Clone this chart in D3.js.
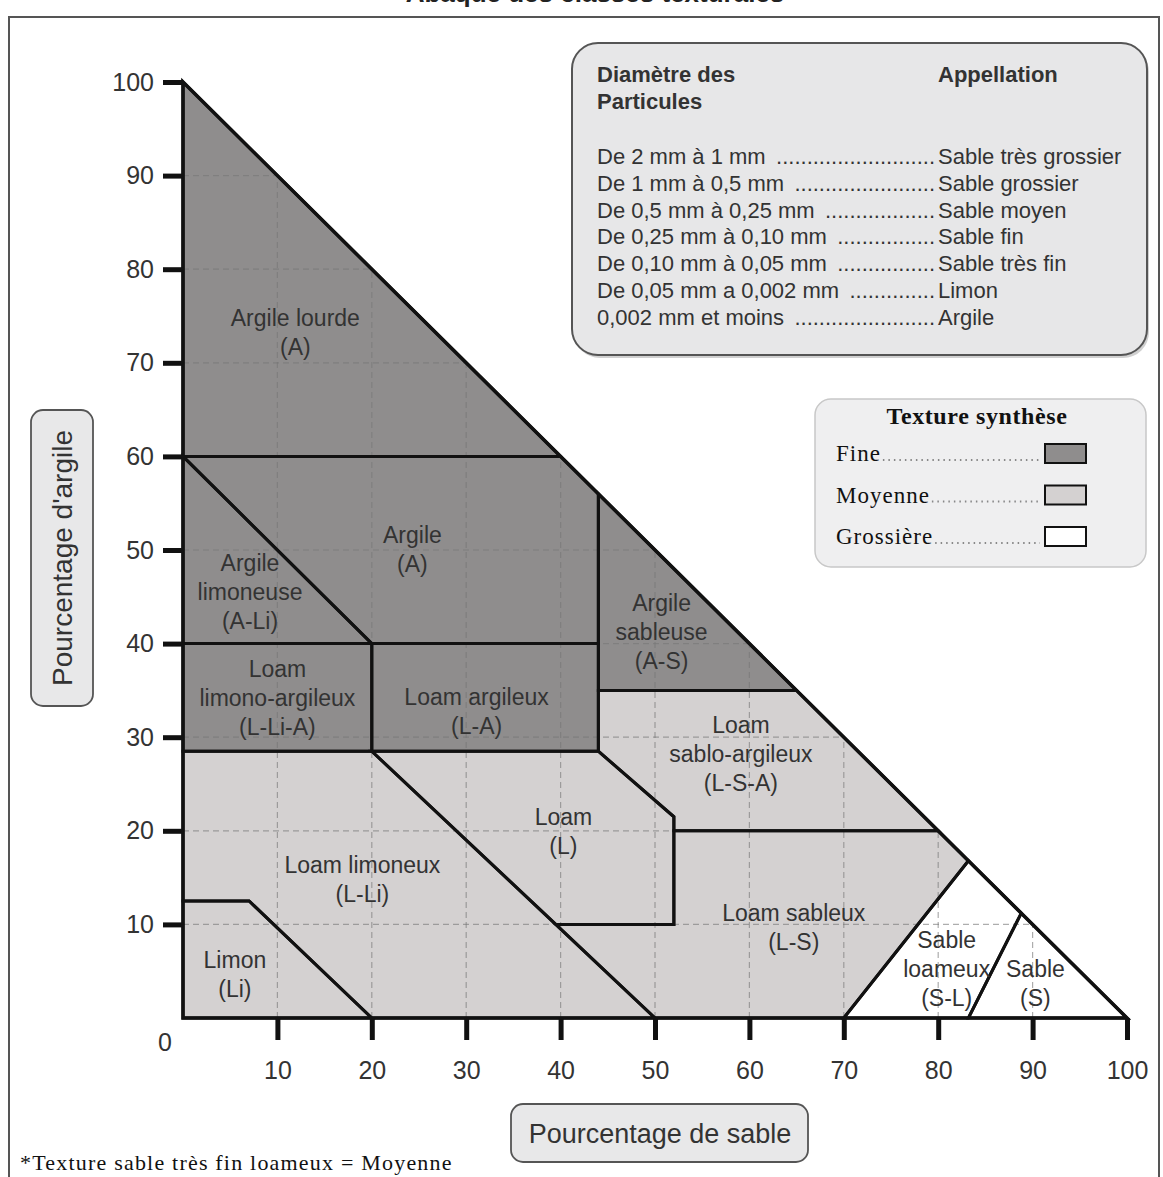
<!DOCTYPE html>
<meta charset="utf-8">
<style>
body { margin: 0; background: #fff; }
svg { display: block; font-family: Arial, "Liberation Sans", sans-serif; }
.region-label { font-size: 23px; fill: #333; text-anchor: middle; }
.axis text { font-size: 25px; fill: #333; font-family: Arial, "Liberation Sans", sans-serif; }
.axis line { stroke: #111; stroke-width: 5px; }
.grid line { stroke: #777; stroke-opacity: 0.6; stroke-width: 1.2px; stroke-dasharray: 6,4; }
.box-text { font-size: 22px; fill: #333; }
.serif { font-family: "Liberation Serif", "DejaVu Serif", serif; fill: #111; }
</style>
<svg width="1163" height="1177"></svg>
<script src="https://d3js.org/d3.v7.min.js"></script>
<script>
var svg = d3.select("svg");

// ticks
var tickValues = [10, 20, 30, 40, 50, 60, 70, 80, 90, 100];
var gridValues = [10, 20, 30, 40, 50, 60, 70, 80, 90];

// texture classes (legend)
var textureNames = ["Fine", "Moyenne", "Grossière"];
var textureColors = ["#8f8d8d", "#d4d1d1", "#ffffff"];

// regions: [sand %, clay %] vertices, texture index
var regionNames = ["A lourde", "A", "A-Li", "L-Li-A", "L-A", "A-S", "L-S-A", "L", "L-Li", "Li", "L-S", "S-L", "S"];
var regionTexture = [0, 0, 0, 0, 0, 0, 1, 1, 1, 1, 1, 2, 2];
var regionPoints = [
  [[0,100],[40,60],[0,60]],
  [[0,60],[40,60],[44,56],[44,40],[20,40]],
  [[0,60],[20,40],[0,40]],
  [[0,40],[20,40],[20,28.5],[0,28.5]],
  [[20,40],[44,40],[44,28.5],[20,28.5]],
  [[44,56],[65,35],[44,35]],
  [[44,35],[65,35],[80,20],[52,20],[52,21.5],[44,28.5]],
  [[20,28.5],[44,28.5],[52,21.5],[52,10],[39.5,10]],
  [[0,28.5],[20,28.5],[50,0],[20,0],[7,12.5],[0,12.5]],
  [[0,12.5],[7,12.5],[20,0],[0,0]],
  [[52,20],[80,20],[83.2,16.8],[70,0],[50,0],[39.5,10],[52,10]],
  [[70,0],[83.2,16.8],[88.8,11.2],[83.2,0]],
  [[83.2,0],[88.8,11.2],[100,0]]
];

// region labels: lines, anchor (sand, clay) of the first line
var labelLines = [
  ["Argile lourde", "(A)"],
  ["Argile", "(A)"],
  ["Argile", "limoneuse", "(A-Li)"],
  ["Loam", "limono-argileux", "(L-Li-A)"],
  ["Loam argileux", "(L-A)"],
  ["Argile", "sableuse", "(A-S)"],
  ["Loam", "sablo-argileux", "(L-S-A)"],
  ["Loam", "(L)"],
  ["Loam limoneux", "(L-Li)"],
  ["Limon", "(Li)"],
  ["Loam sableux", "(L-S)"],
  ["Sable", "loameux", "(S-L)"],
  ["Sable", "(S)"]
];
var labelSand = [11.9, 24.3, 7.1, 10.0, 31.1, 50.7, 59.1, 40.3, 19.0, 5.5, 64.7, 80.9, 90.3];
var labelClay = [74.8, 51.6, 48.6, 37.3, 34.3, 44.3, 31.3, 21.5, 16.3, 6.2, 11.2, 8.3, 5.2];

// particle size table
var particleSizes = ["De 2 mm à 1 mm", "De 1 mm à 0,5 mm", "De 0,5 mm à 0,25 mm", "De 0,25 mm à 0,10 mm",
  "De 0,10 mm à 0,05 mm", "De 0,05 mm a 0,002 mm", "0,002 mm et moins"];
var appellations = ["Sable très grossier", "Sable grossier", "Sable moyen", "Sable fin",
  "Sable très fin", "Limon", "Argile"];

var x = d3.scaleLinear().domain([0, 100]).range([183, 1127]);
var y = d3.scaleLinear().domain([0, 100]).range([1018, 82]);

var line = d3.line().x(function(d) { return x(d[0]); }).y(function(d) { return y(d[1]); });

// cut-off title and outer frame
svg.append("text")
  .attr("x", 595).attr("y", 1.5)
  .attr("text-anchor", "middle")
  .attr("font-weight", "bold").attr("font-size", 26).attr("fill", "#222")
  .text("Abaque des classes texturales");

svg.append("path")
  .attr("d", "M9,1177V17H1159V1177")
  .attr("fill", "none").attr("stroke", "#555").attr("stroke-width", 2);

// region fills
svg.append("g").selectAll("path")
  .data(regionPoints)
  .enter().append("path")
  .attr("d", function(d) { return line(d) + "Z"; })
  .attr("fill", function(d, i) { return textureColors[regionTexture[i]]; })
  .attr("stroke", "none");

// dashed grid inside the triangle
var grid = svg.append("g").attr("class", "grid");
grid.selectAll(".gv").data(gridValues).enter().append("line")
  .attr("x1", function(d) { return x(d); }).attr("x2", function(d) { return x(d); })
  .attr("y1", y(0)).attr("y2", function(d) { return y(100 - d); });
grid.selectAll(".gh").data(gridValues).enter().append("line")
  .attr("y1", function(d) { return y(d); }).attr("y2", function(d) { return y(d); })
  .attr("x1", x(0)).attr("x2", function(d) { return x(100 - d); });

// region borders
svg.append("g").selectAll("path")
  .data(regionPoints)
  .enter().append("path")
  .attr("d", function(d) { return line(d) + "Z"; })
  .attr("fill", "none")
  .attr("stroke", "#111")
  .attr("stroke-width", 3)
  .attr("stroke-linejoin", "miter");

svg.append("path")
  .attr("d", line([[0,100],[0,0],[100,0]]) + "Z")
  .attr("fill", "none").attr("stroke", "#111").attr("stroke-width", 3.5);

// axes
var yAxis = d3.axisLeft(y).tickValues(tickValues).tickSize(20).tickPadding(9);
var xAxis = d3.axisBottom(x).tickValues(tickValues).tickSize(22).tickPadding(21);

svg.append("g").attr("class", "axis")
  .attr("transform", "translate(" + x(0) + ",0)")
  .call(yAxis)
  .call(function(g) { g.select(".domain").remove(); });

svg.append("g").attr("class", "axis")
  .attr("transform", "translate(0," + y(0) + ")")
  .call(xAxis)
  .call(function(g) { g.select(".domain").remove(); });

svg.append("text")
  .attr("x", 165).attr("y", 1051)
  .attr("text-anchor", "middle")
  .attr("font-size", 25).attr("fill", "#333")
  .text("0");

// region labels
var lab = svg.append("g");
labelLines.forEach(function(lines, i) {
  var t = lab.append("text").attr("class", "region-label")
    .attr("x", x(labelSand[i]))
    .attr("y", y(labelClay[i]) + 8);
  lines.forEach(function(s, j) {
    t.append("tspan").attr("x", x(labelSand[i])).attr("dy", j === 0 ? 0 : 29).text(s);
  });
});

// axis title boxes
function labelBox(bx, by, bw, bh) {
  svg.append("rect")
    .attr("x", bx).attr("y", by).attr("width", bw).attr("height", bh)
    .attr("rx", 12).attr("ry", 12)
    .attr("fill", "#e8e8e9").attr("stroke", "#555").attr("stroke-width", 1.8);
}
labelBox(31, 410, 62, 296);
svg.append("text")
  .attr("transform", "translate(72,558) rotate(-90)")
  .attr("text-anchor", "middle")
  .attr("font-size", 28).attr("fill", "#333")
  .text("Pourcentage d'argile");

labelBox(511, 1104, 297, 58);
svg.append("text")
  .attr("x", 660).attr("y", 1143)
  .attr("text-anchor", "middle")
  .attr("font-size", 27).attr("fill", "#333")
  .text("Pourcentage de sable");

// particle size box
svg.append("rect")
  .attr("x", 574).attr("y", 46).attr("width", 575).attr("height", 312)
  .attr("rx", 26).attr("fill", "#d0d0d0");
svg.append("rect")
  .attr("x", 572).attr("y", 43).attr("width", 575).attr("height", 312)
  .attr("rx", 26).attr("fill", "#e7e7e8").attr("stroke", "#555").attr("stroke-width", 2);

var hdr = svg.append("text").attr("class", "box-text").attr("font-weight", "bold").attr("fill", "#222");
hdr.append("tspan").attr("x", 597).attr("y", 82).text("Diamètre des");
hdr.append("tspan").attr("x", 597).attr("y", 109).text("Particules");
svg.append("text").attr("class", "box-text").attr("font-weight", "bold").attr("fill", "#222")
  .attr("x", 938).attr("y", 82).text("Appellation");

var dotEnd = 935;
particleSizes.forEach(function(s, i) {
  var yy = 164 + i * 26.8;
  var left = svg.append("text").attr("class", "box-text").attr("x", 597).attr("y", yy).text(s);
  var w = left.node().getComputedTextLength();
  var probe = svg.append("text").attr("class", "box-text").text("..........");
  var dw = probe.node().getComputedTextLength() / 10;
  probe.remove();
  var n = Math.floor((dotEnd - (597 + w + 6)) / dw);
  svg.append("text").attr("class", "box-text").attr("x", dotEnd).attr("y", yy)
    .attr("text-anchor", "end").text(new Array(n + 1).join("."));
  svg.append("text").attr("class", "box-text").attr("x", 938).attr("y", yy).text(appellations[i]);
});

// texture legend box
svg.append("rect")
  .attr("x", 815).attr("y", 399).attr("width", 331).attr("height", 168)
  .attr("rx", 16).attr("fill", "#efeff0").attr("stroke", "#c8c8c8").attr("stroke-width", 1.5);
svg.append("text").attr("class", "serif")
  .attr("x", 977).attr("y", 424).attr("text-anchor", "middle")
  .attr("font-weight", "bold").attr("font-size", 24).attr("letter-spacing", 0.6)
  .text("Texture synthèse");

textureNames.forEach(function(nm, i) {
  var yy = 461 + i * 41.5;
  var t = svg.append("text").attr("class", "serif")
    .attr("x", 836).attr("y", yy).attr("font-size", 23).attr("letter-spacing", 1)
    .text(nm);
  var w = t.node().getComputedTextLength();
  svg.append("line")
    .attr("x1", 836 + w + 2).attr("x2", 1040)
    .attr("y1", yy - 1).attr("y2", yy - 1)
    .attr("stroke", "#888").attr("stroke-width", 2).attr("stroke-dasharray", "1.5,4");
  svg.append("rect")
    .attr("x", 1045).attr("y", yy - 17).attr("width", 41).attr("height", 19)
    .attr("fill", textureColors[i]).attr("stroke", "#111").attr("stroke-width", 2);
});

// footnote
svg.append("text").attr("class", "serif")
  .attr("x", 20).attr("y", 1170).attr("font-size", 22).attr("letter-spacing", 1.2)
  .text("*Texture sable très fin loameux = Moyenne");
</script>
